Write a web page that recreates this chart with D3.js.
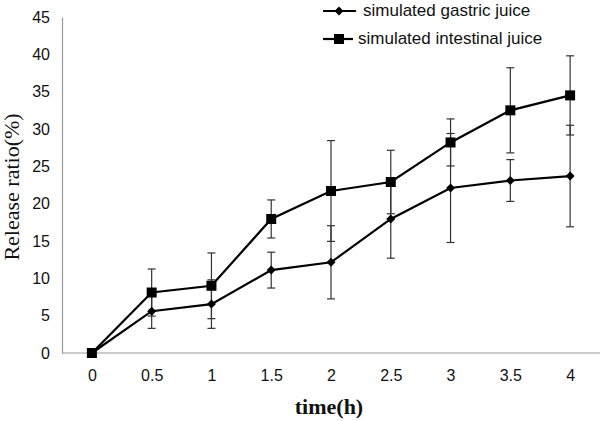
<!DOCTYPE html>
<html><head><meta charset="utf-8">
<script src="https://cdn.jsdelivr.net/npm/d3@7"></script>
<style>html,body{margin:0;padding:0;background:#fff;}svg{display:block;}</style>
</head><body>
<svg id="chart" width="600" height="421"></svg>
<script>
const timeLabels = ["0","0.5","1","1.5","2","2.5","3","3.5","4"];
const yTicks = [0,5,10,15,20,25,30,35,40,45];
const gastricValues = [0, 5.6, 6.55, 11.1, 12.15, 17.95, 22.1, 23.1, 23.7];
const gastricErrors = [0, 2.3, 3.25, 2.4, 4.9, 5.25, 7.3, 2.8, 6.8];
const intestinalValues = [0, 8.1, 9.0, 17.95, 21.7, 22.9, 28.2, 32.5, 34.5];
const intestinalErrors = [0, 3.15, 4.4, 2.55, 6.75, 4.25, 3.15, 5.7, 5.3];
const seriesNames = ["simulated gastric juice", "simulated intestinal juice"];

const svg = d3.select("#chart");
const mLeft = 62, mRight = 600, mTop = 17, mBottom = 353;

const x = d3.scalePoint().domain(timeLabels).range([mLeft, mRight]).padding(0.5);
const y = d3.scaleLinear().domain([0, 45]).range([mBottom, mTop]);

// axes
const yAxis = d3.axisLeft(y).tickValues(yTicks).tickSize(0).tickPadding(12);
const gy = svg.append("g").attr("transform", `translate(${mLeft},0)`).call(yAxis);
gy.select(".domain").attr("stroke", "#999").attr("stroke-width", 1.2);
gy.selectAll("text").attr("font-family", "Liberation Sans, Arial, sans-serif").attr("font-size", 16).attr("fill", "#111");

const xAxis = d3.axisBottom(x).tickSize(0).tickPadding(17);
const gx = svg.append("g").attr("transform", `translate(0,${mBottom})`).call(xAxis);
gx.select(".domain").attr("stroke", "#999").attr("stroke-width", 1.2).attr("d", `M${mLeft},0H${mRight}`);
gx.selectAll("text").attr("font-family", "Liberation Sans, Arial, sans-serif").attr("font-size", 16).attr("fill", "#111");

// titles
svg.append("text").attr("transform", `translate(19,187) rotate(-90)`)
  .attr("text-anchor", "middle").attr("font-family", "Liberation Serif, Times New Roman, serif")
  .attr("font-size", 22).attr("fill", "#111").text("Release ratio(%)");
svg.append("text").attr("x", 329).attr("y", 414)
  .attr("text-anchor", "middle").attr("font-family", "Liberation Serif, Times New Roman, serif")
  .attr("font-weight", "bold").attr("font-size", 22).attr("fill", "#111").text("time(h)");

const series = [
  {name: seriesNames[0], values: gastricValues, errors: gastricErrors, marker: "diamond"},
  {name: seriesNames[1], values: intestinalValues, errors: intestinalErrors, marker: "square"}
];

const line = d3.line().x((d,i) => x(timeLabels[i])).y(d => y(d));

function drawMarker(g, type, cx, cy) {
  if (type === "square") {
    g.append("rect").attr("x", cx-5).attr("y", cy-5).attr("width", 10).attr("height", 10).attr("fill", "#000");
  } else {
    g.append("path").attr("d", `M${cx},${cy-4.5}L${cx+4.5},${cy}L${cx},${cy+4.5}L${cx-4.5},${cy}Z`).attr("fill", "#000");
  }
}

// error bars
series.forEach(s => {
  const g = svg.append("g").attr("stroke", "#333").attr("stroke-width", 1.2);
  s.values.forEach((v, i) => {
    const e = s.errors[i];
    if (!e) return;
    const cx = x(timeLabels[i]);
    g.append("line").attr("x1", cx).attr("x2", cx).attr("y1", y(v+e)).attr("y2", y(v-e));
    g.append("line").attr("x1", cx-4).attr("x2", cx+4).attr("y1", y(v+e)).attr("y2", y(v+e));
    g.append("line").attr("x1", cx-4).attr("x2", cx+4).attr("y1", y(v-e)).attr("y2", y(v-e));
  });
});

// lines and markers
series.forEach(s => {
  svg.append("path").datum(s.values).attr("d", line).attr("fill", "none").attr("stroke", "#000").attr("stroke-width", 2.2);
  const g = svg.append("g");
  s.values.forEach((v, i) => drawMarker(g, s.marker, x(timeLabels[i]), y(v)));
});

// legend
const legendRows = [{y: 11, x1: 323, x2: 356, tx: 363}, {y: 39, x1: 323, x2: 353, tx: 358}];
series.forEach((s, k) => {
  const r = legendRows[k];
  const g = svg.append("g");
  g.append("line").attr("x1", r.x1).attr("x2", r.x2).attr("y1", r.y).attr("y2", r.y).attr("stroke", "#000").attr("stroke-width", 2.2);
  drawMarker(g, s.marker, 339, r.y);
  g.append("text").attr("x", r.tx).attr("y", r.y + 5).attr("font-family", "Liberation Sans, Arial, sans-serif")
    .attr("font-size", 17).attr("fill", "#111").text(s.name);
});
</script>
</body></html>
